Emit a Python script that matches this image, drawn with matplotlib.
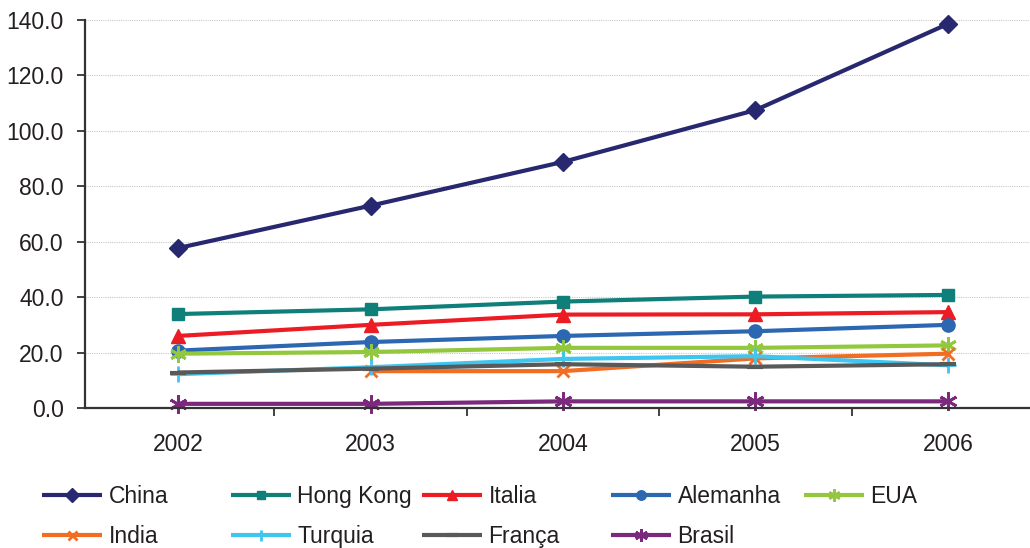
import numpy as np
import matplotlib
matplotlib.use('Agg')
import matplotlib.pyplot as plt
from matplotlib.ticker import FixedLocator, FuncFormatter

plt.rcParams['font.family'] = ['Liberation Sans', 'DejaVu Sans']

years = ['2002', '2003', '2004', '2005', '2006']
yticks = [0, 20, 40, 60, 80, 100, 120, 140]

china = [57.7, 73.0, 88.8, 107.5, 138.6]
hong_kong = [33.9, 35.6, 38.4, 40.2, 40.8]
italia = [26.0, 30.0, 33.7, 33.8, 34.6]
alemanha = [20.7, 23.8, 26.0, 27.7, 30.0]
eua = [19.6, 20.2, 21.7, 21.7, 22.6]
india = [np.nan, 13.3, 13.3, 17.9, 19.6]
turquia = [12.2, 14.7, 17.7, 18.7, 15.4]
franca = [12.8, 14.2, 15.8, 14.9, 15.8]
brasil = [1.5, 1.5, 2.4, 2.4, 2.4]

# name, values, color, marker, marker size, marker edge width
series = [
    ('China', china, '#27286f', 'D', 9.5, 1),
    ('Hong Kong', hong_kong, '#0f7f79', 's', 8.5, 1),
    ('Italia', italia, '#ec1c24', '^', 10.5, 1),
    ('Alemanha', alemanha, '#2c67b1', 'o', 9.5, 1),
    ('EUA', eua, '#93c83e', (6, 2, 0), 12, 2),
    ('India', india, '#f26c22', 'x', 9, 2),
    ('Turquia', turquia, '#3ec5f0', '+', 11, 2),
    ('França', franca, '#595959', '_', 11, 3),
    ('Brasil', brasil, '#7b297c', (6, 2, 0), 13, 2),
]

fig = plt.figure(figsize=(10.3, 5.48), dpi=100)
W, H = 1030, 548
step = 192.5
x0 = 178 - 0.485 * step
ax = fig.add_axes([x0 / W, (H - 408) / H, 4.985 * step / W, (408 - 20) / H])

x = np.arange(len(years))
lines = {}
for name, vals, col, mk, ms, mew in series:
    ln, = ax.plot(x, vals, color=col, lw=3, marker=mk, markersize=ms,
                  markeredgewidth=mew, markerfacecolor=col, markeredgecolor=col,
                  label=name, solid_capstyle='butt', clip_on=False)
    lines[name] = ln

ax.set_xlim(-0.485, 4.5)
ax.set_ylim(0, 140)

ax.yaxis.set_major_locator(FixedLocator(yticks))
ax.yaxis.set_major_formatter(FuncFormatter(lambda v, p: f'{v:.1f}'))
ax.grid(axis='y', color='#c8c8c8', linestyle=(0, (1, 1)), linewidth=0.8)
ax.set_axisbelow(True)

ax.set_xticks(x)
ax.set_xticklabels(years)
ax.set_xticks(x[:-1] + 0.5, minor=True)
ax.tick_params(axis='x', which='major', length=0, pad=18, labelsize=16.5, labelcolor='#231f20')
ax.tick_params(axis='x', which='minor', length=6, width=1.3, direction='out', color='#333333')
ax.tick_params(axis='y', length=6, width=1.3, direction='out', pad=9, labelsize=16.5,
               labelcolor='#231f20', color='#333333')

for s in ['top', 'right']:
    ax.spines[s].set_visible(False)
for s in ['left', 'bottom']:
    ax.spines[s].set_color('#333333')
    ax.spines[s].set_linewidth(1.6)

# legend laid out as five fixed-width columns
columns = [['China', 'India'], ['Hong Kong', 'Turquia'], ['Italia', 'França'],
           ['Alemanha', 'Brasil'], ['EUA']]
col_x = [42, 231, 422, 611, 804]
for cx, names in zip(col_x, columns):
    leg = fig.legend([lines[n] for n in names], names, loc='upper left',
                     bbox_to_anchor=(cx / W, 1 - 485 / H), frameon=False,
                     fontsize=16.5, handlelength=2.6, handletextpad=0.3,
                     labelspacing=0.75, markerscale=0.72, borderaxespad=0,
                     borderpad=0)
    for t in leg.get_texts():
        t.set_color('#231f20')

fig.savefig('out.png', dpi=100)
